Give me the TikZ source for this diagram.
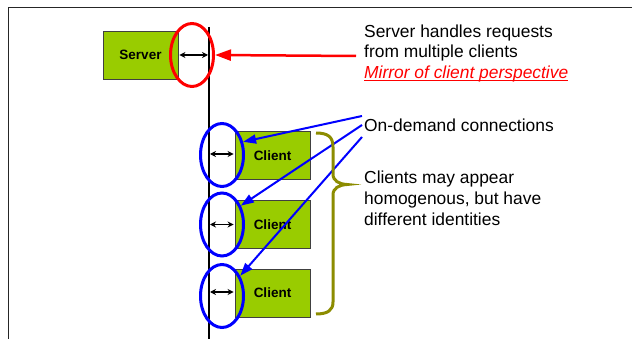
\documentclass[tikz,border=0pt]{standalone}
\usepackage{fontspec}
\setmainfont{Liberation Sans}
\usetikzlibrary{arrows.meta,shapes.geometric}
\definecolor{boxgreen}{HTML}{99CC00}
\definecolor{boxedge}{HTML}{404040}
\definecolor{bracecol}{HTML}{8C8C00}
\definecolor{ringred}{HTML}{FF0000}
\definecolor{ringblue}{HTML}{0000FF}
\tikzset{
  framestyle/.style={draw=black!85,line width=1.3pt},
  axisline/.style={draw=black,line width=1.5pt},
  greenbox/.style={draw=boxedge,line width=0.9pt,fill=boxgreen,minimum width=75pt,minimum height=48pt,inner sep=0pt,font=\fontsize{13.5}{15}\selectfont\bfseries},
  ring/.style={ellipse,draw,line width=3pt,minimum width=43pt,minimum height=63pt,inner sep=0pt},
  dblarrow/.style={{Stealth[length=6pt,width=6pt]}-{Stealth[length=6pt,width=6pt]},line width=1.4pt,black,shorten <=1pt,shorten >=1pt},
  redarrow/.style={-{Triangle[length=16pt,width=11pt]},line width=2.5pt,draw=ringred},
  bluearrow/.style={-{Triangle[length=13pt,width=9pt]},line width=2pt,draw=ringblue},
  txt/.style={anchor=base west,inner sep=0pt,font=\fontsize{17.4}{20.5}\selectfont},
  underl/.style={draw=ringred,line width=1.1pt},
}
\begin{document}
\begin{tikzpicture}[x=1pt,y=-1pt]
\useasboundingbox (0,0) rectangle (632,339);
% frame
\coordinate (fr) at (632,7.5);
\coordinate (fc) at (8.5,7.5);
\coordinate (fb) at (8.5,339);
\draw[framestyle] (fr) -- (fc) -- (fb);
% axis
\coordinate (axtop) at (209,27);
\coordinate (axbot) at (209,339);
\draw[axisline] (axtop) -- (axbot);
% boxes
\node[greenbox] (server) at (140.5,55) {Server};
\node[greenbox] (c1) at (272.5,155.5) {Client};
\node[greenbox] (c2) at (272.5,224.5) {Client};
\node[greenbox] (c3) at (272.5,293) {Client};
% axis points
\coordinate (a0) at (209,55);
\coordinate (a1) at (209,154);
\coordinate (a2) at (209,224.5);
\coordinate (a3) at (209,292);
\draw[dblarrow] (a0) -- (server.east);
\draw[dblarrow] (a1) -- (c1.west |- a1);
\draw[dblarrow] (a2) -- (c2.west |- a2);
\draw[dblarrow] (a3) -- (c3.west |- a3);
% rings
\node[ring,draw=ringred] (sring) at (192,55) {};
\node[ring,draw=ringblue] (e1) at (222,155) {};
\node[ring,draw=ringblue] (e2) at (222,224.5) {};
\node[ring,draw=ringblue] (e3) at (222,296) {};
% texts
\node[txt] (t1) at (364,37.5) {Server handles requests};
\node[txt] (t2) at (364,58) {from multiple clients};
\node[txt,text=ringred] (t3) at (364,78.5) {\itshape Mirror of client perspective};
\draw[underl] ([yshift=-1.8pt]t3.base west) -- ([yshift=-1.8pt]t3.base east);
\node[txt] (t4) at (364,131.7) {On-demand connections};
\node[txt] (t5) at (364,184) {Clients may appear};
\node[txt] (t6) at (364,205) {homogenous, but have};
\node[txt] (t7) at (364,226) {different identities};
% connectors
\coordinate (rs) at (356,56);
\draw[redarrow] (rs) -- (sring.east);
\coordinate (b1) at (362,116);
\coordinate (b2) at (362,125);
\coordinate (b3) at (362,137);
\draw[bluearrow] (b1) -- (e1.32);
\draw[bluearrow] (b2) -- (e2.45);
\draw[bluearrow] (b3) -- (e3.48);
% brace
\draw[draw=bracecol,line width=3pt]
  (316,133) .. controls (328,133) and (333,137) .. (333,147)
  -- (333,174) .. controls (333,181) and (339,184) .. (347,184.5)
  .. controls (339,185) and (333,188) .. (333,195)
  -- (333,302) .. controls (333,310) and (328,314) .. (316,314);
\end{tikzpicture}
\end{document}
